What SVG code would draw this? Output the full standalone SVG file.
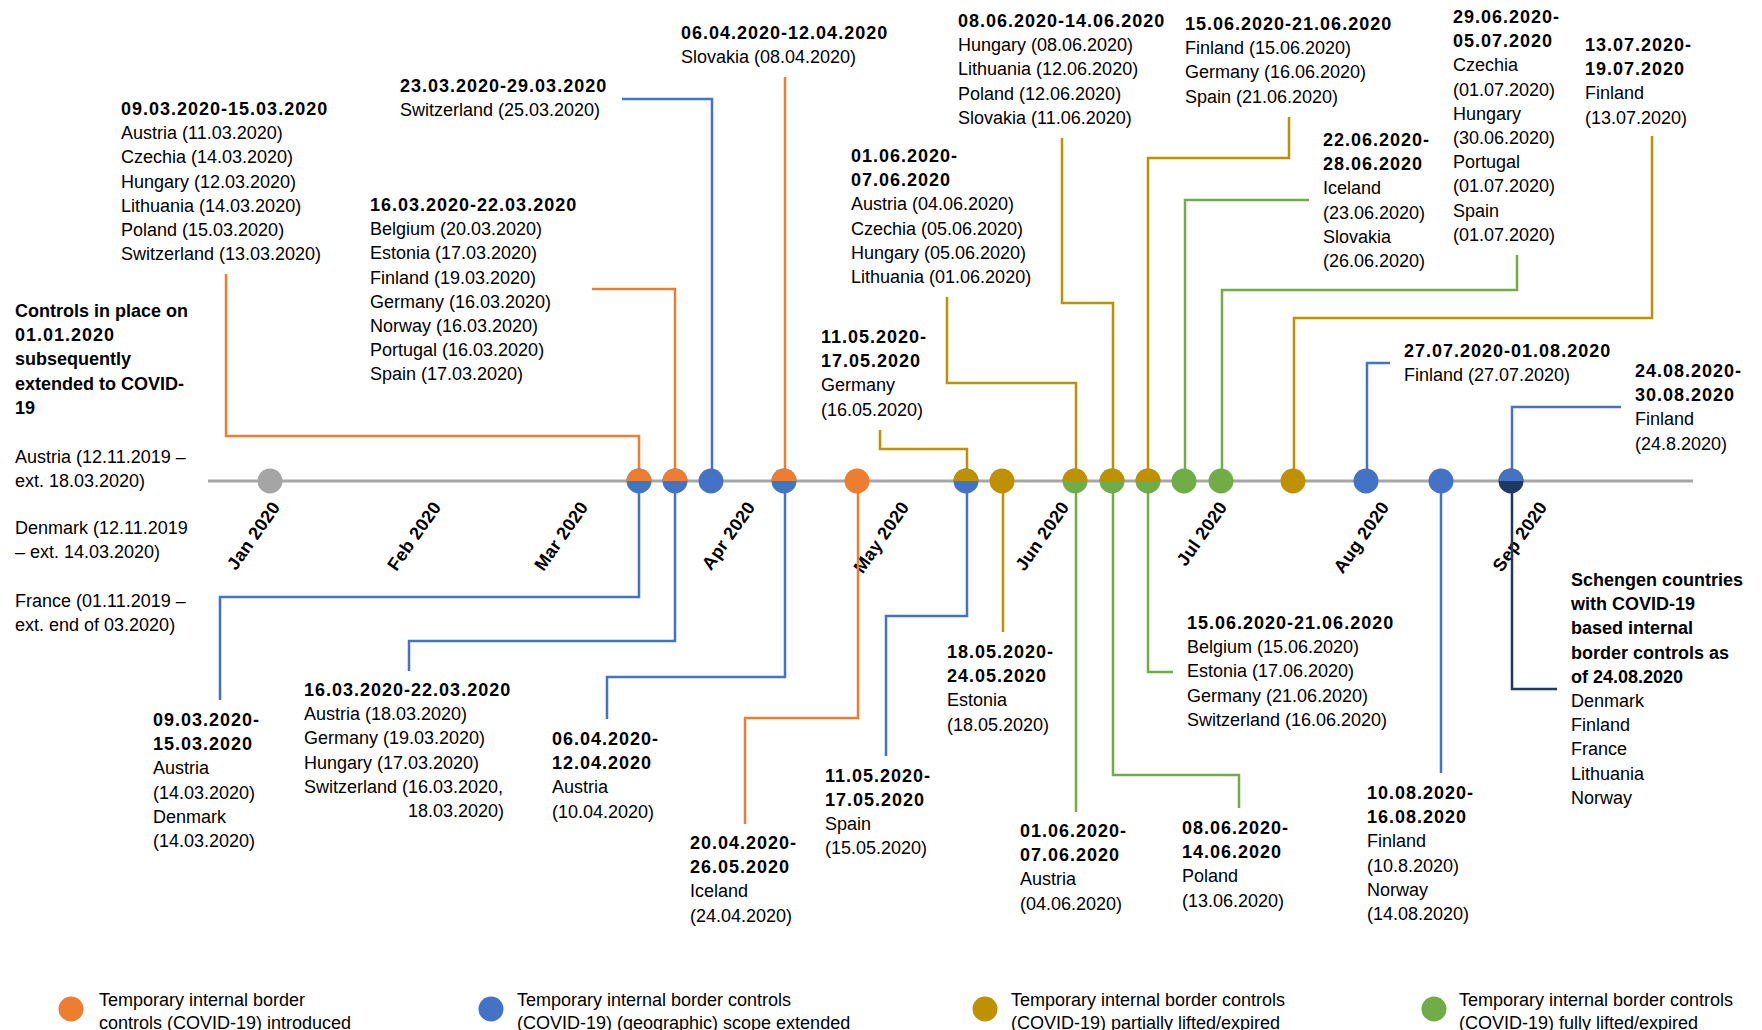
<svg xmlns="http://www.w3.org/2000/svg" xmlns:xlink="http://www.w3.org/1999/xlink" width="1762" height="1030" viewBox="0 0 1762 1030">
<style>
text{font-family:"Liberation Sans",Arial,sans-serif;font-size:18px;fill:#000}
.b{font-weight:bold}
.d{font-weight:bold;letter-spacing:1px}
.m{font-weight:bold;font-size:18px;text-anchor:end;letter-spacing:0.3px}
.c{fill:none;stroke-width:2.5}
.o{stroke:#ED7D31}.bl{stroke:#4472C4}.g{stroke:#BF9000}.gr{stroke:#70AD47}.n{stroke:#203864}
.fo{fill:#ED7D31}.fb{fill:#4472C4}.fg{fill:#BF9000}.fgr{fill:#70AD47}.fn{fill:#203864}.fx{fill:#A5A5A5}
</style>
<defs>
<circle id="dot" r="12.5"/>
<path id="top" d="M-12.5,0 A12.5,12.5 0 0 1 12.5,0 Z"/>
</defs>
<rect width="1762" height="1030" fill="#fff"/>

<g id="axis">
<line x1="208" y1="481" x2="1693" y2="481" stroke="#A6A6A6" stroke-width="3"/>
<text class="m" transform="translate(281,507) rotate(-55)">Jan 2020</text>
<text class="m" transform="translate(442,507) rotate(-55)">Feb 2020</text>
<text class="m" transform="translate(589,507) rotate(-55)">Mar 2020</text>
<text class="m" transform="translate(756,507) rotate(-55)">Apr 2020</text>
<text class="m" transform="translate(910,507) rotate(-55)">May 2020</text>
<text class="m" transform="translate(1070,507) rotate(-55)">Jun 2020</text>
<text class="m" transform="translate(1228,507) rotate(-55)">Jul 2020</text>
<text class="m" transform="translate(1390,507) rotate(-55)">Aug 2020</text>
<text class="m" transform="translate(1548,507) rotate(-55)">Sep 2020</text>
</g>

<g id="connectors">
<path class="c o" d="M226,274 V436 H639 V481"/>
<path class="c o" d="M592,289 H675 V481"/>
<path class="c bl" d="M622,99 H712 V481"/>
<path class="c o" d="M785,77 V481"/>
<path class="c g" d="M880,430 V449 H967 V481"/>
<path class="c g" d="M947,297 V383 H1076 V481"/>
<path class="c g" d="M1062,138 V303 H1113 V481"/>
<path class="c g" d="M1289,117 V158 H1148 V481"/>
<path class="c gr" d="M1309,200 H1185 V481"/>
<path class="c gr" d="M1517,255 V290 H1222 V481"/>
<path class="c g" d="M1652,136 V318 H1294 V481"/>
<path class="c bl" d="M1390,363 H1367 V481"/>
<path class="c bl" d="M1621,407 H1512 V481"/>
<path class="c bl" d="M639,481 V597 H220 V700"/>
<path class="c bl" d="M675,481 V641 H409 V671"/>
<path class="c bl" d="M785,481 V677 H607 V719"/>
<path class="c o" d="M858,481 V718 H745 V824"/>
<path class="c bl" d="M967,481 V616 H886 V756"/>
<path class="c g" d="M1003,481 V632"/>
<path class="c gr" d="M1076,481 V812"/>
<path class="c gr" d="M1113,481 V775 H1239 V808"/>
<path class="c gr" d="M1148,481 V672 H1173"/>
<path class="c bl" d="M1441,481 V773"/>
<path class="c n" d="M1512,481 V689 H1557"/>
</g>

<g id="dots">
<use href="#dot" xlink:href="#dot" x="270" y="481" class="fx"/>
<use href="#dot" xlink:href="#dot" x="639" y="481" class="fb"/><use href="#top" xlink:href="#top" x="639" y="481" class="fo"/>
<use href="#dot" xlink:href="#dot" x="675" y="481" class="fb"/><use href="#top" xlink:href="#top" x="675" y="481" class="fo"/>
<use href="#dot" xlink:href="#dot" x="711" y="481" class="fb"/>
<use href="#dot" xlink:href="#dot" x="784" y="481" class="fb"/><use href="#top" xlink:href="#top" x="784" y="481" class="fo"/>
<use href="#dot" xlink:href="#dot" x="857" y="481" class="fo"/>
<use href="#dot" xlink:href="#dot" x="966" y="481" class="fb"/><use href="#top" xlink:href="#top" x="966" y="481" class="fg"/>
<use href="#dot" xlink:href="#dot" x="1002" y="481" class="fg"/>
<use href="#dot" xlink:href="#dot" x="1075" y="481" class="fgr"/><use href="#top" xlink:href="#top" x="1075" y="481" class="fg"/>
<use href="#dot" xlink:href="#dot" x="1112" y="481" class="fgr"/><use href="#top" xlink:href="#top" x="1112" y="481" class="fg"/>
<use href="#dot" xlink:href="#dot" x="1148" y="481" class="fgr"/><use href="#top" xlink:href="#top" x="1148" y="481" class="fg"/>
<use href="#dot" xlink:href="#dot" x="1184" y="481" class="fgr"/>
<use href="#dot" xlink:href="#dot" x="1221" y="481" class="fgr"/>
<use href="#dot" xlink:href="#dot" x="1293" y="481" class="fg"/>
<use href="#dot" xlink:href="#dot" x="1366" y="481" class="fb"/>
<use href="#dot" xlink:href="#dot" x="1441" y="481" class="fb"/>
<use href="#dot" xlink:href="#dot" x="1511" y="481" class="fn"/><use href="#top" xlink:href="#top" x="1511" y="481" class="fb"/>
</g>

<g id="n-controls">
<text class="b" x="15" y="317">Controls in place on</text>
<text class="d" x="15" y="341.2">01.01.2020</text>
<text class="b" x="15" y="365.4">subsequently</text>
<text class="b" x="15" y="389.6">extended to COVID-</text>
<text class="b" x="15" y="413.8">19</text>
<text x="15" y="463">Austria (12.11.2019 –</text>
<text x="15" y="487">ext. 18.03.2020)</text>
<text x="15" y="534">Denmark (12.11.2019</text>
<text x="15" y="558">– ext. 14.03.2020)</text>
<text x="15" y="607">France (01.11.2019 –</text>
<text x="15" y="631">ext. end of 03.2020)</text>
</g>

<g id="n-0903-top">
<text class="d" x="121" y="115">09.03.2020-15.03.2020</text>
<text x="121" y="139.2">Austria (11.03.2020)</text>
<text x="121" y="163.4">Czechia (14.03.2020)</text>
<text x="121" y="187.6">Hungary (12.03.2020)</text>
<text x="121" y="211.8">Lithuania (14.03.2020)</text>
<text x="121" y="236">Poland (15.03.2020)</text>
<text x="121" y="260.2">Switzerland (13.03.2020)</text>
</g>

<g id="n-1603-top">
<text class="d" x="370" y="211">16.03.2020-22.03.2020</text>
<text x="370" y="235.2">Belgium (20.03.2020)</text>
<text x="370" y="259.4">Estonia (17.03.2020)</text>
<text x="370" y="283.6">Finland (19.03.2020)</text>
<text x="370" y="307.8">Germany (16.03.2020)</text>
<text x="370" y="332">Norway (16.03.2020)</text>
<text x="370" y="356.2">Portugal (16.03.2020)</text>
<text x="370" y="380.4">Spain (17.03.2020)</text>
</g>

<g id="n-2303-top">
<text class="d" x="400" y="92">23.03.2020-29.03.2020</text>
<text x="400" y="116">Switzerland (25.03.2020)</text>
</g>

<g id="n-0604-top">
<text class="d" x="681" y="39">06.04.2020-12.04.2020</text>
<text x="681" y="63">Slovakia (08.04.2020)</text>
</g>

<g id="n-1105-top">
<text class="d" x="821" y="343">11.05.2020-</text>
<text class="d" x="821" y="367.2">17.05.2020</text>
<text x="821" y="391.4">Germany</text>
<text x="821" y="415.6">(16.05.2020)</text>
</g>

<g id="n-0106-top">
<text class="d" x="851" y="162">01.06.2020-</text>
<text class="d" x="851" y="186.2">07.06.2020</text>
<text x="851" y="210.4">Austria (04.06.2020)</text>
<text x="851" y="234.6">Czechia (05.06.2020)</text>
<text x="851" y="258.8">Hungary (05.06.2020)</text>
<text x="851" y="283">Lithuania (01.06.2020)</text>
</g>

<g id="n-0806-top">
<text class="d" x="958" y="27">08.06.2020-14.06.2020</text>
<text x="958" y="51.2">Hungary (08.06.2020)</text>
<text x="958" y="75.4">Lithuania (12.06.2020)</text>
<text x="958" y="99.6">Poland (12.06.2020)</text>
<text x="958" y="123.8">Slovakia (11.06.2020)</text>
</g>

<g id="n-1506-top">
<text class="d" x="1185" y="30">15.06.2020-21.06.2020</text>
<text x="1185" y="54.2">Finland (15.06.2020)</text>
<text x="1185" y="78.4">Germany (16.06.2020)</text>
<text x="1185" y="102.6">Spain (21.06.2020)</text>
</g>

<g id="n-2206-top">
<text class="d" x="1323" y="146">22.06.2020-</text>
<text class="d" x="1323" y="170.2">28.06.2020</text>
<text x="1323" y="194.4">Iceland</text>
<text x="1323" y="218.6">(23.06.2020)</text>
<text x="1323" y="242.8">Slovakia</text>
<text x="1323" y="267">(26.06.2020)</text>
</g>

<g id="n-2906-top">
<text class="d" x="1453" y="23">29.06.2020-</text>
<text class="d" x="1453" y="47.2">05.07.2020</text>
<text x="1453" y="71.4">Czechia</text>
<text x="1453" y="95.6">(01.07.2020)</text>
<text x="1453" y="119.8">Hungary</text>
<text x="1453" y="144">(30.06.2020)</text>
<text x="1453" y="168.2">Portugal</text>
<text x="1453" y="192.4">(01.07.2020)</text>
<text x="1453" y="216.6">Spain</text>
<text x="1453" y="240.8">(01.07.2020)</text>
</g>

<g id="n-1307-top">
<text class="d" x="1585" y="51">13.07.2020-</text>
<text class="d" x="1585" y="75.2">19.07.2020</text>
<text x="1585" y="99.4">Finland</text>
<text x="1585" y="123.6">(13.07.2020)</text>
</g>

<g id="n-2707-top">
<text class="d" x="1404" y="357">27.07.2020-01.08.2020</text>
<text x="1404" y="381">Finland (27.07.2020)</text>
</g>

<g id="n-2408-top">
<text class="d" x="1635" y="377">24.08.2020-</text>
<text class="d" x="1635" y="401.2">30.08.2020</text>
<text x="1635" y="425.4">Finland</text>
<text x="1635" y="449.6">(24.8.2020)</text>
</g>

<g id="n-0903-bottom">
<text class="d" x="153" y="726">09.03.2020-</text>
<text class="d" x="153" y="750.2">15.03.2020</text>
<text x="153" y="774.4">Austria</text>
<text x="153" y="798.6">(14.03.2020)</text>
<text x="153" y="822.8">Denmark</text>
<text x="153" y="847">(14.03.2020)</text>
</g>

<g id="n-1603-bottom">
<text class="d" x="304" y="696">16.03.2020-22.03.2020</text>
<text x="304" y="720.2">Austria (18.03.2020)</text>
<text x="304" y="744.4">Germany (19.03.2020)</text>
<text x="304" y="768.6">Hungary (17.03.2020)</text>
<text x="304" y="792.8">Switzerland (16.03.2020,</text>
<text x="408" y="817">18.03.2020)</text>
</g>

<g id="n-0604-bottom">
<text class="d" x="552" y="745">06.04.2020-</text>
<text class="d" x="552" y="769.2">12.04.2020</text>
<text x="552" y="793.4">Austria</text>
<text x="552" y="817.6">(10.04.2020)</text>
</g>

<g id="n-2004-bottom">
<text class="d" x="690" y="849">20.04.2020-</text>
<text class="d" x="690" y="873.2">26.05.2020</text>
<text x="690" y="897.4">Iceland</text>
<text x="690" y="921.6">(24.04.2020)</text>
</g>

<g id="n-1105-bottom">
<text class="d" x="825" y="781.5">11.05.2020-</text>
<text class="d" x="825" y="805.7">17.05.2020</text>
<text x="825" y="829.9">Spain</text>
<text x="825" y="854.1">(15.05.2020)</text>
</g>

<g id="n-1805-bottom">
<text class="d" x="947" y="658">18.05.2020-</text>
<text class="d" x="947" y="682.2">24.05.2020</text>
<text x="947" y="706.4">Estonia</text>
<text x="947" y="730.6">(18.05.2020)</text>
</g>

<g id="n-0106-bottom">
<text class="d" x="1020" y="837">01.06.2020-</text>
<text class="d" x="1020" y="861.2">07.06.2020</text>
<text x="1020" y="885.4">Austria</text>
<text x="1020" y="909.6">(04.06.2020)</text>
</g>

<g id="n-0806-bottom">
<text class="d" x="1182" y="834">08.06.2020-</text>
<text class="d" x="1182" y="858.2">14.06.2020</text>
<text x="1182" y="882.4">Poland</text>
<text x="1182" y="906.6">(13.06.2020)</text>
</g>

<g id="n-1506-bottom">
<text class="d" x="1187" y="629">15.06.2020-21.06.2020</text>
<text x="1187" y="653.2">Belgium (15.06.2020)</text>
<text x="1187" y="677.4">Estonia (17.06.2020)</text>
<text x="1187" y="701.6">Germany (21.06.2020)</text>
<text x="1187" y="725.8">Switzerland (16.06.2020)</text>
</g>

<g id="n-1008-bottom">
<text class="d" x="1367" y="799">10.08.2020-</text>
<text class="d" x="1367" y="823.2">16.08.2020</text>
<text x="1367" y="847.4">Finland</text>
<text x="1367" y="871.6">(10.8.2020)</text>
<text x="1367" y="895.8">Norway</text>
<text x="1367" y="920">(14.08.2020)</text>
</g>

<g id="n-schengen">
<text class="b" x="1571" y="586">Schengen countries</text>
<text class="b" x="1571" y="610.2">with COVID-19</text>
<text class="b" x="1571" y="634.4">based internal</text>
<text class="b" x="1571" y="658.6">border controls as</text>
<text class="b" x="1571" y="682.8">of 24.08.2020</text>
<text x="1571" y="707">Denmark</text>
<text x="1571" y="731.2">Finland</text>
<text x="1571" y="755.4">France</text>
<text x="1571" y="779.6">Lithuania</text>
<text x="1571" y="803.8">Norway</text>
</g>

<g id="legend">
<use href="#dot" xlink:href="#dot" x="71" y="1009" class="fo"/>
<text x="99" y="1006">Temporary internal border</text>
<text x="99" y="1029">controls (COVID-19) introduced</text>
<use href="#dot" xlink:href="#dot" x="491" y="1009" class="fb"/>
<text x="517" y="1006">Temporary internal border controls</text>
<text x="517" y="1029">(COVID-19) (geographic) scope extended</text>
<use href="#dot" xlink:href="#dot" x="985" y="1009" class="fg"/>
<text x="1011" y="1006">Temporary internal border controls</text>
<text x="1011" y="1029">(COVID-19) partially lifted/expired</text>
<use href="#dot" xlink:href="#dot" x="1434" y="1009" class="fgr"/>
<text x="1459" y="1006">Temporary internal border controls</text>
<text x="1459" y="1029">(COVID-19) fully lifted/expired</text>
</g>
</svg>
